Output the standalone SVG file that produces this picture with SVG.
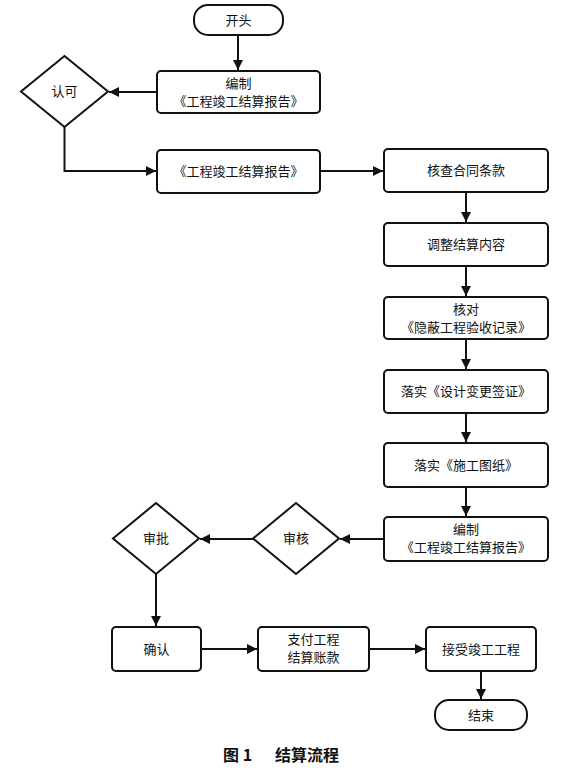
<svg xmlns="http://www.w3.org/2000/svg" width="570" height="770" viewBox="0 0 570 770">
<defs>
<style>
.box{fill:#fff;stroke:#111;stroke-width:2}
.t{font-family:"Noto Sans CJK SC","Noto Sans",sans-serif;font-size:13px;fill:#111;text-anchor:middle}
.cap{font-family:"Noto Sans CJK SC","Noto Sans",sans-serif;font-size:16px;font-weight:bold;fill:#111}
.ln{fill:none;stroke:#111;stroke-width:2}
</style>
<marker id="ah" viewBox="0 0 10 10" refX="10" refY="5" markerWidth="6" markerHeight="5" orient="auto" markerUnits="strokeWidth">
<path d="M0,0 L10,5 L0,10 Z" fill="#111"/>
</marker>
</defs>
<rect width="570" height="770" fill="#fff"/>
<g id="connectors">
<path class="ln" d="M238,35 V70" marker-end="url(#ah)"/>
<path class="ln" d="M157,92 H109" marker-end="url(#ah)"/>
<path class="ln" d="M64.5,127 V171 H156" marker-end="url(#ah)"/>
<path class="ln" d="M320,171 H383" marker-end="url(#ah)"/>
<path class="ln" d="M466,192 V222" marker-end="url(#ah)"/>
<path class="ln" d="M466,266 V296" marker-end="url(#ah)"/>
<path class="ln" d="M466,339 V369" marker-end="url(#ah)"/>
<path class="ln" d="M466,413 V442" marker-end="url(#ah)"/>
<path class="ln" d="M466,487 V516" marker-end="url(#ah)"/>
<path class="ln" d="M384,539 H340" marker-end="url(#ah)"/>
<path class="ln" d="M253,539 H200" marker-end="url(#ah)"/>
<path class="ln" d="M156,574 V626" marker-end="url(#ah)"/>
<path class="ln" d="M201,649 H257" marker-end="url(#ah)"/>
<path class="ln" d="M369,649 H425" marker-end="url(#ah)"/>
<path class="ln" d="M481,671 V699" marker-end="url(#ah)"/>
</g>
<g id="start"><rect class="box" x="194" y="5" width="89" height="30" rx="14"/><text class="t" x="238.5" y="25">开头</text></g>
<g id="compile1"><rect class="box" x="157" y="71" width="163" height="42" rx="4"/><text class="t" x="238.5" y="88">编制</text><text class="t" x="238.5" y="106">《工程竣工结算报告》</text></g>
<g id="approve1"><path class="box" d="M64.5,56 L108,91.5 L64.5,127 L21,91.5 Z"/><text class="t" x="64.5" y="96">认可</text></g>
<g id="report"><rect class="box" x="157" y="150" width="163" height="43" rx="4"/><text class="t" x="238.5" y="176">《工程竣工结算报告》</text></g>
<g id="check"><rect class="box" x="384" y="149" width="164" height="43" rx="4"/><text class="t" x="466" y="175">核查合同条款</text></g>
<g id="adjust"><rect class="box" x="384" y="223" width="164" height="43" rx="4"/><text class="t" x="466" y="249">调整结算内容</text></g>
<g id="verify"><rect class="box" x="384" y="297" width="164" height="42" rx="4"/><text class="t" x="466" y="314">核对</text><text class="t" x="466" y="332">《隐蔽工程验收记录》</text></g>
<g id="implement1"><rect class="box" x="384" y="370" width="164" height="43" rx="4"/><text class="t" x="466" y="396">落实《设计变更签证》</text></g>
<g id="implement2"><rect class="box" x="384" y="443" width="164" height="44" rx="4"/><text class="t" x="466" y="470">落实《施工图纸》</text></g>
<g id="compile2"><rect class="box" x="384" y="517" width="164" height="44" rx="4"/><text class="t" x="466" y="534">编制</text><text class="t" x="466" y="552">《工程竣工结算报告》</text></g>
<g id="review"><path class="box" d="M296,503 L339,538.5 L296,574 L253,538.5 Z"/><text class="t" x="296" y="543">审核</text></g>
<g id="approve2"><path class="box" d="M156,503 L199,538.5 L156,574 L113,538.5 Z"/><text class="t" x="156" y="543">审批</text></g>
<g id="confirm"><rect class="box" x="112" y="627" width="89" height="44" rx="4"/><text class="t" x="156.5" y="654">确认</text></g>
<g id="pay"><rect class="box" x="258" y="627" width="111" height="44" rx="4"/><text class="t" x="313.5" y="644">支付工程</text><text class="t" x="313.5" y="661.5">结算账款</text></g>
<g id="accept"><rect class="box" x="426" y="627" width="110" height="44" rx="4"/><text class="t" x="481" y="654">接受竣工工程</text></g>
<g id="end"><rect class="box" x="435" y="700" width="92" height="30" rx="14"/><text class="t" x="481" y="720">结束</text></g>
<text class="cap" x="223" y="761">图 1</text>
<text class="cap" x="275" y="761">结算流程</text>
</svg>
